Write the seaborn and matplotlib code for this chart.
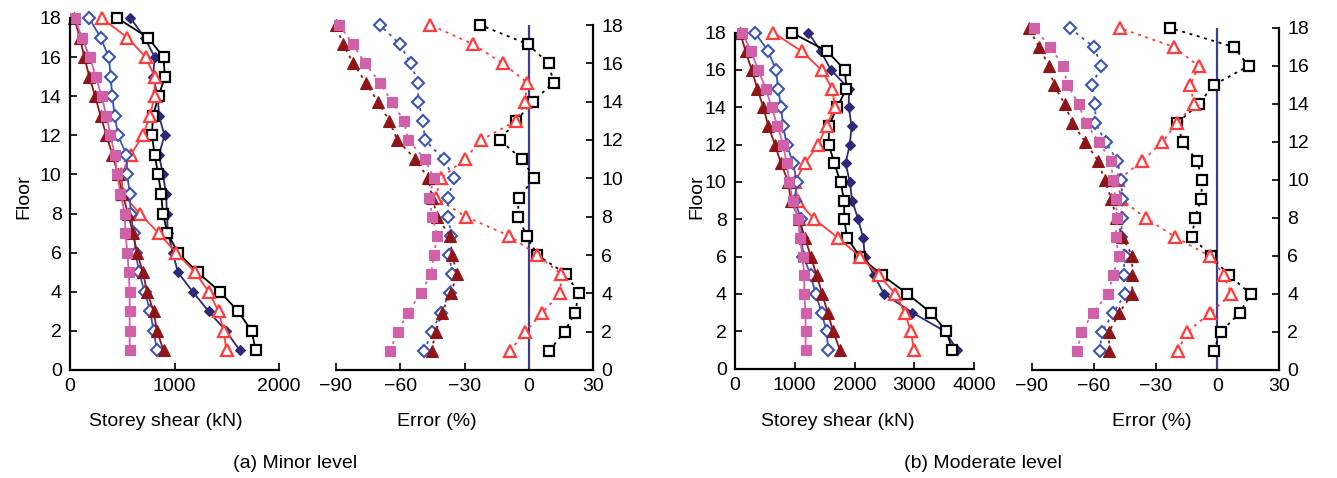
import matplotlib
matplotlib.use("Agg")
import matplotlib.pyplot as plt
import seaborn as sns
import numpy as np
import pandas as pd

# ---------------- data (floors 1..18) ----------------
floors = list(range(1, 19))

# (a) Minor level - storey shear (kN)
minor_ref = [1625, 1492, 1327, 1175, 1032, 984, 937, 927, 920, 889, 851, 905, 851, 841, 794, 810, 714, 578]
minor_sq = [1778, 1737, 1610, 1435, 1222, 1032, 933, 889, 873, 844, 810, 784, 794, 848, 908, 895, 746, 451]
minor_tri = [1498, 1470, 1422, 1327, 1197, 1016, 848, 667, 505, 492, 581, 698, 765, 810, 810, 724, 549, 302]
minor_dia = [832, 800, 768, 714, 660, 629, 610, 581, 571, 549, 540, 460, 429, 403, 390, 371, 292, 184]
minor_ftri = [895, 832, 800, 737, 698, 641, 603, 556, 500, 460, 406, 349, 292, 240, 185, 137, 94, 40]
minor_fsq = [571, 571, 571, 571, 562, 549, 530, 524, 483, 451, 429, 387, 349, 302, 248, 190, 111, 48]

# (a) Minor level - error (%)
minor_err_sq = [9.6, 16.7, 21.7, 23.3, 17.5, 4.0, -0.9, -5.1, -4.7, 2.6, -3.1, -13.6, -5.9, 1.9, 11.6, 9.3, -0.5, -22.6]
minor_err_tri = [-8.8, -1.6, 6.4, 14.7, 15.2, 4.0, -9.0, -29.5, -43.4, -41.2, -29.9, -22.2, -5.9, -1.6, -0.9, -12.1, -26.0, -45.9]
minor_err_dia = [-49.0, -45.0, -41.2, -36.9, -35.7, -37.2, -36.1, -37.7, -37.7, -34.9, -39.7, -48.5, -49.3, -51.6, -51.6, -55.2, -60.2, -69.5]
minor_err_ftri = [-45.4, -43.4, -40.5, -36.4, -33.5, -35.7, -36.9, -42.8, -45.0, -47.0, -52.9, -61.4, -65.1, -70.5, -76.1, -81.9, -86.8, -90.0]
minor_err_fsq = [-64.8, -61.2, -56.3, -50.5, -45.7, -44.3, -42.8, -45.0, -46.5, -44.3, -48.5, -56.3, -58.3, -64.0, -69.5, -76.4, -82.2, -88.4]

# (b) Moderate level - storey shear (kN)
mod_ref = [3721, 3510, 2964, 2496, 2323, 2173, 2145, 2061, 1961, 1922, 1850, 1922, 1950, 1905, 1905, 1604, 1437, 1226]
mod_sq = [3638, 3538, 3276, 2886, 2462, 2089, 1877, 1827, 1827, 1766, 1660, 1571, 1571, 1710, 1866, 1838, 1543, 947]
mod_tri = [2997, 2942, 2841, 2685, 2407, 2089, 1727, 1326, 1047, 1003, 1170, 1393, 1532, 1671, 1627, 1448, 1114, 641]
mod_dia = [1560, 1532, 1448, 1348, 1270, 1142, 1114, 1103, 1003, 1031, 975, 864, 808, 769, 724, 685, 557, 334]
mod_ftri = [1755, 1643, 1549, 1460, 1365, 1270, 1170, 1075, 936, 891, 769, 669, 557, 474, 373, 279, 178, 84]
mod_fsq = [1181, 1181, 1181, 1159, 1159, 1131, 1086, 1058, 964, 908, 864, 808, 708, 613, 513, 390, 267, 123]

# (b) Moderate level - error (%)
mod_err_sq = [-1.8, 1.6, 10.9, 16.2, 5.7, -3.2, -12.1, -11.0, -7.8, -7.4, -9.7, -16.8, -19.4, -8.9, -1.8, 15.2, 8.1, -22.8]
mod_err_tri = [-19.1, -14.7, -3.4, 6.8, 3.1, -3.7, -20.4, -34.8, -46.9, -48.2, -36.4, -26.7, -19.6, -11.3, -13.1, -9.1, -21.0, -47.4]
mod_err_dia = [-57.1, -56.0, -50.6, -44.7, -45.5, -45.0, -46.6, -46.3, -46.1, -46.6, -48.5, -54.2, -59.2, -59.2, -60.8, -56.3, -60.0, -71.7]
mod_err_ftri = [-52.6, -52.6, -47.7, -41.3, -41.3, -41.3, -46.1, -49.0, -51.5, -54.7, -57.9, -64.1, -70.4, -74.1, -79.4, -81.7, -86.6, -91.6]
mod_err_fsq = [-68.0, -66.0, -60.4, -53.1, -50.6, -47.7, -49.4, -48.5, -49.4, -50.6, -51.8, -57.4, -63.9, -67.3, -72.8, -74.9, -81.1, -89.0]

shear_xticks_a = [0, 1000, 2000]
shear_xticks_b = [0, 1000, 2000, 3000, 4000]
err_xticks = [-90, -60, -30, 0, 30]
floor_ticks = list(range(0, 19, 2))

# ---------------- style ----------------
sns.set_style("ticks")
plt.rcParams['font.family'] = ['Liberation Sans', 'DejaVu Sans']
plt.rcParams['axes.unicode_minus'] = True
for k in ['text.color', 'axes.labelcolor', 'xtick.color', 'ytick.color', 'axes.edgecolor']:
    plt.rcParams[k] = 'black'

NAVY = "#2C2A78"
REFLINE = "#3F3D8F"
RED = "#FF3B3B"
BLUE = "#3A56B0"
DRED = "#8E1518"
PINK = "#D060A8"

styles = {
    "ref": dict(color=NAVY, marker="D", markersize=5.5, markerfacecolor=NAVY, markeredgecolor=NAVY, markeredgewidth=0.8),
    "sq": dict(color="black", marker="s", markersize=7.5, markerfacecolor="white", markeredgecolor="black", markeredgewidth=1.6),
    "tri": dict(color=RED, marker="^", markersize=8.5, markerfacecolor="white", markeredgecolor=RED, markeredgewidth=1.6),
    "dia": dict(color=BLUE, marker="D", markersize=6, markerfacecolor="white", markeredgecolor=BLUE, markeredgewidth=1.5),
    "ftri": dict(color=DRED, marker="^", markersize=8.5, markerfacecolor=DRED, markeredgecolor=DRED, markeredgewidth=0.8),
    "fsq": dict(color=PINK, marker="s", markersize=7, markerfacecolor=PINK, markeredgecolor=PINK, markeredgewidth=0.8),
}

W, H = 1337, 478
fig = plt.figure(figsize=(W / 100, H / 100), dpi=100)


def box(l, r, t, b):
    return [l / W, 1 - b / H, (r - l) / W, (b - t) / H]


FS = 14


def style_axes(ax, right=False):
    ax.set_ylim(0, 18)
    ax.set_yticks(floor_ticks)
    for s in ax.spines.values():
        s.set_linewidth(1.6)
        s.set_color('black')
    ax.spines["top"].set_visible(False)
    if right:
        ax.spines["left"].set_visible(False)
        ax.yaxis.tick_right()
    else:
        ax.spines["right"].set_visible(False)
    ax.tick_params(direction="in", length=5, width=1.2, labelsize=FS, pad=6, colors='black')
    ax.set_xlabel("")
    ax.set_ylabel("")


def draw(ax, series, dotted=False):
    for key, vals in series:
        st = dict(styles[key])
        ls = (0, (1.6, 2.6)) if dotted else "-"
        sns.lineplot(x=vals, y=floors, ax=ax, orient="y", sort=False, estimator=None,
                     linestyle=ls, linewidth=1.3, clip_on=False, **st)


# Panel (a) shear
ax1 = fig.add_axes(box(70, 279, 18, 370))
draw(ax1, [("ref", minor_ref), ("sq", minor_sq), ("tri", minor_tri), ("dia", minor_dia),
           ("ftri", minor_ftri), ("fsq", minor_fsq)])
ax1.set_xlim(0, 2000)
ax1.set_xticks(shear_xticks_a)
style_axes(ax1)

# Panel (a) error
ax2 = fig.add_axes(box(336, 593, 25, 370))
ax2.axvline(0, color=REFLINE, lw=1.6, zorder=1)
draw(ax2, [("sq", minor_err_sq), ("tri", minor_err_tri), ("dia", minor_err_dia),
           ("ftri", minor_err_ftri), ("fsq", minor_err_fsq)], dotted=True)
ax2.set_xlim(-90, 30)
ax2.set_xticks(err_xticks)
style_axes(ax2, right=True)

# Panel (b) shear
ax3 = fig.add_axes(box(735, 974, 32.6, 368.5))
draw(ax3, [("ref", mod_ref), ("sq", mod_sq), ("tri", mod_tri), ("dia", mod_dia),
           ("ftri", mod_ftri), ("fsq", mod_fsq)])
ax3.set_xlim(0, 4000)
ax3.set_xticks(shear_xticks_b)
style_axes(ax3)

# Panel (b) error
ax4 = fig.add_axes(box(1032, 1279, 28, 370))
ax4.axvline(0, color=REFLINE, lw=1.6, zorder=1)
draw(ax4, [("sq", mod_err_sq), ("tri", mod_err_tri), ("dia", mod_err_dia),
           ("ftri", mod_err_ftri), ("fsq", mod_err_fsq)], dotted=True)
ax4.set_xlim(-90, 30)
ax4.set_xticks(err_xticks)
style_axes(ax4, right=True)

# labels
def ftext(x, y, s, **kw):
    fig.text(x / W, 1 - y / H, s, fontsize=FS, ha="center", va="center", color='black', **kw)

ftext(166, 422, "Storey shear (kN)")
ftext(437, 422, "Error (%)")
ftext(838, 422, "Storey shear (kN)")
ftext(1152, 422, "Error (%)")
ftext(295, 463, "(a) Minor level")
ftext(983, 463, "(b) Moderate level")
ftext(24, 197, "Floor", rotation=90)
ftext(697, 197, "Floor", rotation=90)

fig.savefig("out.png", dpi=100)
